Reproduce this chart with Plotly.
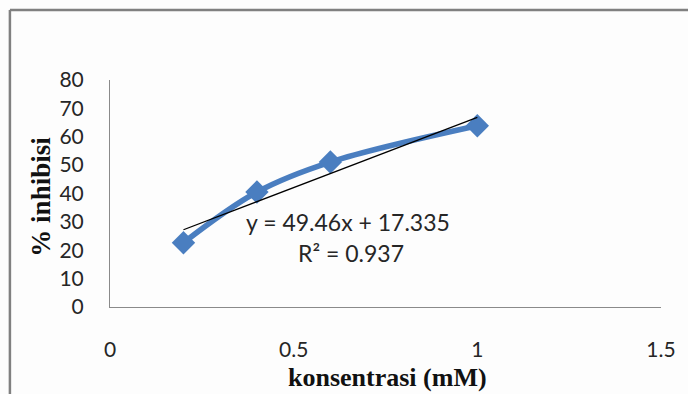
import plotly.graph_objects as go

# Inhibition measured at each concentration
konsentrasi = [0.2, 0.4, 0.6, 1.0]
inhibisi = [22.66, 40.52, 51.09, 63.89]

# Linear trendline coefficients and fit quality
slope = 49.46
intercept = 17.335
r_squared = 0.937

x_ticks = [0, 0.5, 1, 1.5]
x_tick_text = ["0", "0.5", "1", "1.5"]
y_ticks = [0, 10, 20, 30, 40, 50, 60, 70, 80]

W, H = 688, 394
L, R, T, B = 110, 22, 80, 87
pw, ph = W - L - R, H - T - B

def px_x(px):
    return (px - L) / pw

def px_y(py):
    return (H - B - py) / ph

trend_x = [min(konsentrasi), max(konsentrasi)]
trend_y = [slope * v + intercept for v in trend_x]

blue = "#4a7ec0"
tick_font = dict(family="Lato, Calibri, sans-serif", size=21, color="#262626")
title_font = dict(family="Liberation Serif, Times New Roman, serif", size=26, color="#111111")

fig = go.Figure()
fig.add_trace(go.Scatter(
    x=konsentrasi, y=inhibisi, mode="lines+markers",
    line=dict(color=blue, width=5.5, shape="spline", smoothing=1),
    marker=dict(symbol="diamond", size=18, color=blue),
    hoverinfo="skip", showlegend=False,
))
fig.add_trace(go.Scatter(
    x=trend_x, y=trend_y, mode="lines",
    line=dict(color="#000000", width=1.3),
    hoverinfo="skip", showlegend=False,
))

fig.update_layout(
    width=W, height=H,
    margin=dict(l=L, r=R, t=T, b=B),
    paper_bgcolor="#fdfdfd", plot_bgcolor="#fdfdfd",
    xaxis=dict(range=[0, 1.5], tickvals=x_ticks, ticktext=x_tick_text,
               showgrid=False, zeroline=False, showline=True,
               linecolor="#8a8a8a", linewidth=1,
               ticks="outside", ticklen=24, tickcolor="rgba(0,0,0,0)",
               tickfont=tick_font, fixedrange=True),
    yaxis=dict(range=[0, 80], tickvals=y_ticks,
               showgrid=False, zeroline=False, showline=True,
               linecolor="#8a8a8a", linewidth=1,
               ticks="outside", ticklen=21, tickcolor="rgba(0,0,0,0)",
               tickfont=tick_font, fixedrange=True),
    shapes=[
        dict(type="line", xref="paper", yref="paper",
             x0=px_x(9), x1=px_x(700), y0=px_y(10), y1=px_y(10),
             line=dict(color="#808080", width=2.5)),
        dict(type="line", xref="paper", yref="paper",
             x0=px_x(9), x1=px_x(9), y0=px_y(10), y1=px_y(410),
             line=dict(color="#808080", width=2.5)),
    ],
    annotations=[
        dict(text="<b>konsentrasi (mM)</b>", xref="paper", yref="paper",
             x=px_x(390), y=px_y(377), xanchor="center", yanchor="middle",
             showarrow=False, font=title_font),
        dict(text="<b>% inhibisi</b>", xref="paper", yref="paper",
             x=px_x(40), y=px_y(197), xanchor="center", yanchor="middle",
             textangle=-90, showarrow=False, font=dict(title_font, size=27)),
        dict(text=f"y = {slope}x + {intercept}", xref="paper", yref="paper",
             x=px_x(350), y=px_y(222), xanchor="center", yanchor="middle",
             showarrow=False, font=dict(tick_font, size=23)),
        dict(text=f"R² = {r_squared}", xref="paper", yref="paper",
             x=px_x(353), y=px_y(253), xanchor="center", yanchor="middle",
             showarrow=False, font=dict(tick_font, size=23)),
    ],
)

fig.write_html("out.html")
